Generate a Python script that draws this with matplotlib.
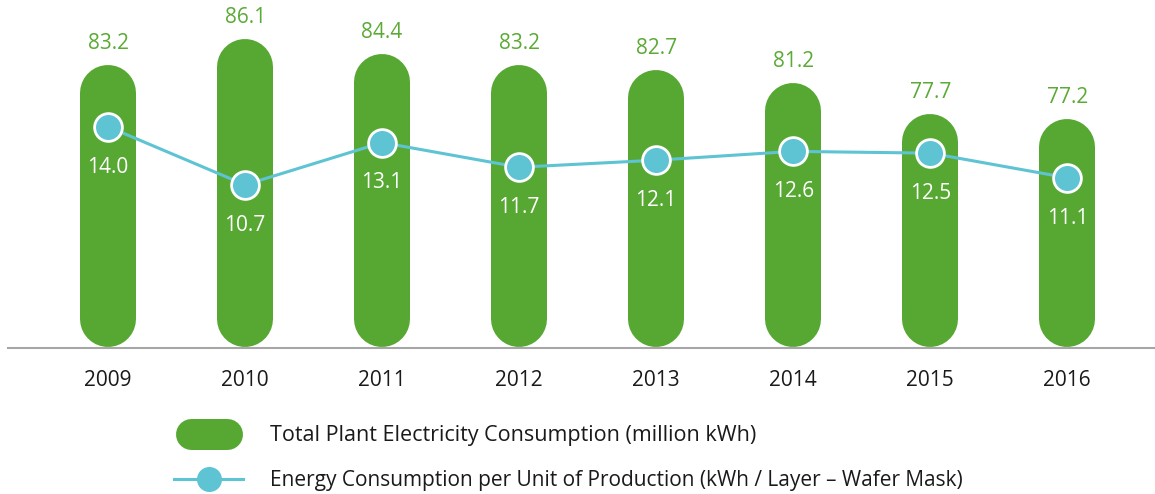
import matplotlib
matplotlib.use('Agg')
from matplotlib import pyplot as plt
from matplotlib.lines import Line2D

plt.rcParams['font.family'] = ['Open Sans', 'DejaVu Sans']

years = ['2009', '2010', '2011', '2012', '2013', '2014', '2015', '2016']
electricity = [83.2, 86.1, 84.4, 83.2, 82.7, 81.2, 77.7, 77.2]   # million kWh
per_unit = [14.0, 10.7, 13.1, 11.7, 12.1, 12.6, 12.5, 11.1]      # kWh / layer - wafer mask

GREEN = '#57a832'
GREEN_TXT = '#5aaa35'
BLUE = '#5ec3d3'

W, H = 1155, 494
fig = plt.figure(figsize=(W / 100, H / 100), dpi=100)

base_px = 348
ax = fig.add_axes([8 / W, (H - base_px) / H, (W - 8) / W, base_px / H])
ylo, yhi = 51.5, 90.5
ax.set_ylim(ylo, yhi)
ax.set_xlim(-0.73, 7.64)

# pill shaped bars: thick lines with round caps
bar_px = 56
r = (bar_px / 2) * (yhi - ylo) / base_px  # cap radius in data units
x = list(range(len(years)))
for i, v in enumerate(electricity):
    ax.plot([i, i], [ylo + r + 0.1, v - r], color=GREEN, lw=bar_px * 0.72,
            solid_capstyle='round', zorder=2)
    ax.annotate(f'{v:.1f}', (i, v), xytext=(0, 15.5), textcoords='offset points',
                ha='center', va='center', fontsize=15, color=GREEN_TXT)

for s in ['top', 'left', 'right']:
    ax.spines[s].set_visible(False)
ax.spines['bottom'].set_color('#a6a6a6')
ax.spines['bottom'].set_linewidth(1.5)
ax.set_yticks([])
ax.set_xticks(x)
ax.set_xticklabels(years, fontsize=15, color='#1a1a1a')
ax.tick_params(axis='x', length=0, pad=16)

ax2 = ax.twinx()
ax2.set_ylim(1.43, 21.2)
ax2.plot(x, per_unit, color=BLUE, lw=2.2, marker='o', ms=20, mfc=BLUE,
         mec='white', mew=2, zorder=3)
for i, v in enumerate(per_unit):
    ax2.annotate(f'{v:.1f}', (i, v), xytext=(0, -29), textcoords='offset points',
                 ha='center', va='center', fontsize=15, color='white')
ax2.set_yticks([])
for s in ax2.spines.values():
    s.set_visible(False)


# legend drawn in figure pixels
def fx(px):
    return px / W


def fy(py):
    return (H - py) / H


fig.add_artist(Line2D([fx(175 + 15.5), fx(242 - 15.5)], [fy(433.5), fy(433.5)],
                      color=GREEN, lw=31 * 0.72, solid_capstyle='round'))
fig.text(fx(270), fy(435), 'Total Plant Electricity Consumption (million kWh)',
         fontsize=15.5, va='center', ha='left', color='#1a1a1a')
fig.add_artist(Line2D([fx(174), fx(243)], [fy(479), fy(479)], color=BLUE, lw=2.2))
fig.add_artist(Line2D([fx(208.5)], [fy(479)], color=BLUE, marker='o', ms=17,
                      mec=BLUE, lw=0))
fig.text(fx(270), fy(480), 'Energy Consumption per Unit of Production (kWh / Layer \u2013 Wafer Mask)',
         fontsize=15, va='center', ha='left', color='#1a1a1a')

fig.savefig('out.png', dpi=100)
